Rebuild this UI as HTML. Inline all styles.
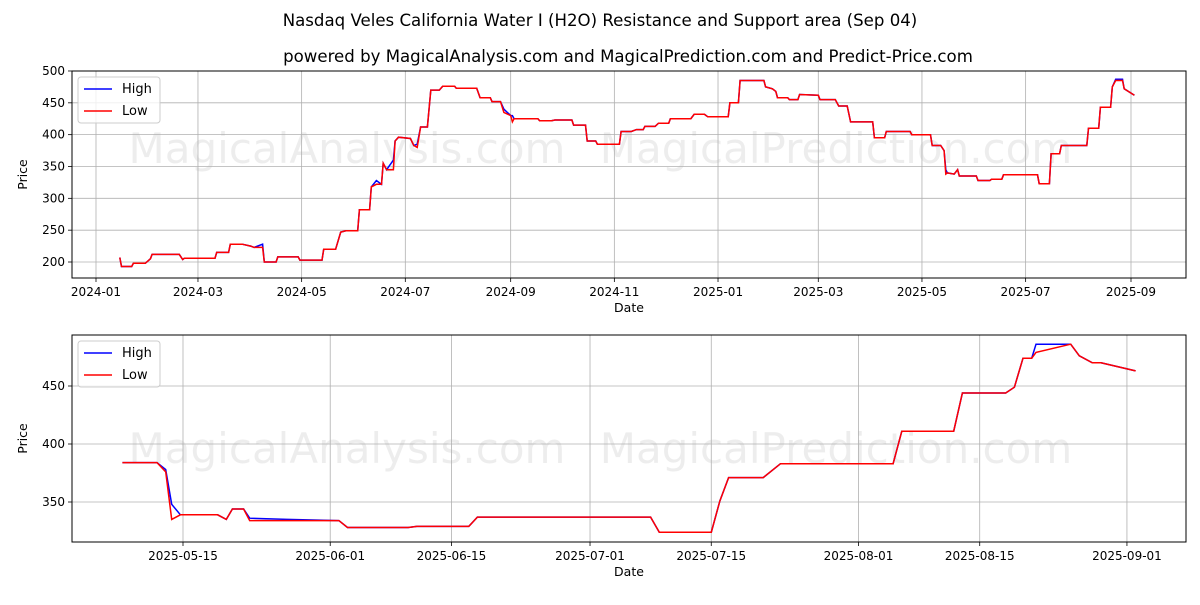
<!DOCTYPE html>
<html><head><meta charset="utf-8">
<style>
body{margin:0;background:#fff;}
svg text{font-family:"DejaVu Sans","Liberation Sans",sans-serif;}
</style></head>
<body>
<svg id="c" width="1200" height="600" xmlns="http://www.w3.org/2000/svg">
<rect width="1200" height="600" fill="#fff"/>
<text x="600" y="26" text-anchor="middle" font-size="16.6">Nasdaq Veles California Water I (H2O) Resistance and Support area (Sep 04)</text>
<text x="628" y="62" text-anchor="middle" font-size="16.6">powered by MagicalAnalysis.com and MagicalPrediction.com and Predict-Price.com</text>
</svg>
<script>
// Top panel: days since 2024-01-01
const topDays=[14,15,21,22,29,32,33,49,51,52,70,71,78,79,86,91,93,98,99,106,107,119,120,133,134,141,144,147,154,155,161,162,165,168,169,171,175,176,178,185,187,189,191,195,197,202,204,211,212,224,226,232,233,238,240,244,245,246,260,261,268,270,280,281,288,289,294,295,308,309,315,318,322,323,329,331,337,338,350,352,358,360,372,373,378,379,393,394,398,400,401,407,408,413,414,425,426,435,437,442,444,457,458,464,465,479,480,491,492,497,499,500,501,505,507,508,518,519,526,527,533,534,554,555,561,562,567,568,583,584,590,591,597,598,600,604,605,611];
const topLow=[207,193,193,198,198,205,212,212,204,206,206,215,215,228,228,225,223,223,200,200,208,208,203,203,220,220,247,249,249,282,282,318,322,322,355,345,345,390,396,394,383,380,412,412,470,470,476,476,473,473,458,458,452,452,435,430,420,425,425,422,422,423,423,415,415,390,390,385,385,405,405,408,408,413,413,418,418,425,425,432,432,428,428,450,450,485,485,475,472,468,458,458,455,455,463,462,455,455,445,445,420,420,395,395,405,405,400,400,383,383,375,338,340,338,345,335,335,328,328,330,330,337,337,323,323,370,370,383,383,410,410,443,443,475,485,485,472,462];
const topHigh=[207,193,193,198,198,205,212,212,204,206,206,215,215,228,228,225,223,228,200,200,208,208,203,203,220,220,247,249,249,282,282,318,328,322,355,345,360,390,396,394,383,385,412,412,470,470,476,476,473,473,458,458,452,452,440,430,430,425,425,422,422,423,423,415,415,390,390,385,385,405,405,408,408,413,413,418,418,425,425,432,432,428,428,450,450,485,485,475,472,468,458,458,455,455,463,462,455,455,445,445,420,420,395,395,405,405,400,400,383,383,375,345,340,338,345,335,335,328,328,330,330,337,337,323,323,370,370,383,383,410,410,443,443,475,487,487,472,462];
const topTickDays=[0,60,121,182,244,305,366,425,486,547,609];
const topTickLabels=["2024-01","2024-03","2024-05","2024-07","2024-09","2024-11","2025-01","2025-03","2025-05","2025-07","2025-09"];
const topYTicks=[200,250,300,350,400,450,500];
// Bottom panel: days since 2025-05-15
const botDays=[-7,-3,-2,-1.3,-0.3,4,5,5.7,7,7.7,12,18,19,26,27,33,34,54,55,61,62,63,67,69,82,83,89,90,95,96,97,98,98.5,102.5,103.5,105,106,110];
const botLow=[384,384,376,335,339,339,335,344,344,334,334,334,328,328,329,329,337,337,324,324,351,371,371,383,383,411,411,444,444,449,474,474,479,486,476,470,470,463];
const botHigh=[384,384,378,348,339,339,335,344,344,336,335,334,328,328,329,329,337,337,324,324,351,371,371,383,383,411,411,444,444,449,474,474,486,486,476,470,470,463];
const botTickDays=[0,17,31,47,61,78,92,109];
const botTickLabels=["2025-05-15","2025-06-01","2025-06-15","2025-07-01","2025-07-15","2025-08-01","2025-08-15","2025-09-01"];
const botYTicks=[350,400,450];

const NS="http://www.w3.org/2000/svg";
const svg=document.getElementById('c');
function el(t,a,p){const e=document.createElementNS(NS,t);for(const k in a)e.setAttribute(k,a[k]);(p||svg).appendChild(e);return e;}

function panel(cfg){
  const g=el('g',{});
  
  
  const {L,R,T,B}=cfg;
  const xs=d=>cfg.x0+d*cfg.xk;
  const ys=v=>cfg.yRef-(v-cfg.vRef)*cfg.yk;
  [[cfg.wm1x,'MagicalAnalysis.com'],[cfg.wm2x,'MagicalPrediction.com']].forEach(([wx,t])=>{
    const w=el('text',{x:wx,y:cfg.wmy,'font-size':42,fill:'#000','fill-opacity':0.07,'text-anchor':'middle'},g);w.textContent=t;
    
    
  });
  cfg.xt.forEach((d,i)=>{
    const x=xs(d);
    el('line',{x1:x,x2:x,y1:T,y2:B,stroke:'#b0b0b0','stroke-width':0.8},g);
    el('line',{x1:x,x2:x,y1:B,y2:B+4,stroke:'#000','stroke-width':0.8},g);
    const t=el('text',{x:x,y:B+18,'font-size':12,'text-anchor':'middle'},g);t.textContent=cfg.xl[i];
    
    
  });
  cfg.yt.forEach(v=>{
    const y=ys(v);
    el('line',{x1:L,x2:R,y1:y,y2:y,stroke:'#b0b0b0','stroke-width':0.8},g);
    el('line',{x1:L-4,x2:L,y1:y,y2:y,stroke:'#000','stroke-width':0.8},g);
    const t=el('text',{x:L-7,y:y+4,'font-size':12,'text-anchor':'end'},g);t.textContent=v;
    
    
  });
  const clip='clip'+cfg.name;
  const cp=el('clipPath',{id:clip},g);el('rect',{x:L,y:T,width:R-L,height:B-T},cp);
  [[cfg.high,'#0000ff','high-line'],[cfg.low,'#ff0000','low-line']].forEach(([arr,c,n])=>{
    const p=el('polyline',{points:cfg.days.map((d,i)=>xs(d).toFixed(1)+','+ys(arr[i]).toFixed(1)).join(' '),fill:'none',stroke:c,'stroke-width':1.5,'clip-path':'url(#'+clip+')'},g);
    
    
  });
  el('rect',{x:L,y:T,width:R-L,height:B-T,fill:'none',stroke:'#000','stroke-width':1},g);
  const xt=el('text',{x:(L+R)/2,y:B+34,'font-size':12.5,'text-anchor':'middle'},g);xt.textContent='Date';
  
  
  const yt=el('text',{x:0,y:0,'font-size':12.5,'text-anchor':'middle',transform:`translate(${L-45},${(T+B)/2}) rotate(-90)`},g);yt.textContent='Price';
  
  
  const lg=el('g',{},g);
  
  
  el('rect',{x:L+6,y:T+6,width:82,height:46,rx:3,fill:'#fff','fill-opacity':0.8,stroke:'#ccc'},lg);
  [['High','#0000ff',T+18],['Low','#ff0000',T+40]].forEach(([n,c,y])=>{
    el('line',{x1:L+12,x2:L+40,y1:y,y2:y,stroke:c,'stroke-width':1.5},lg);
    const t=el('text',{x:L+50,y:y+4,'font-size':13},lg);t.textContent=n;
    
    
  });
}
panel({name:'top-panel',L:72,R:1186,T:71,B:278,x0:96,xk:1.6995,yRef:262,vRef:200,yk:0.6367,
  days:topDays,low:topLow,high:topHigh,xt:topTickDays,xl:topTickLabels,yt:topYTicks,wm1x:347,wm2x:836,wmy:163});
panel({name:'bottom-panel',L:72,R:1186,T:335,B:542,x0:183,xk:8.66,yRef:386,vRef:450,yk:1.16,
  days:botDays,low:botLow,high:botHigh,xt:botTickDays,xl:botTickLabels,yt:botYTicks,wm1x:347,wm2x:836,wmy:463});
</script>
</body></html>
